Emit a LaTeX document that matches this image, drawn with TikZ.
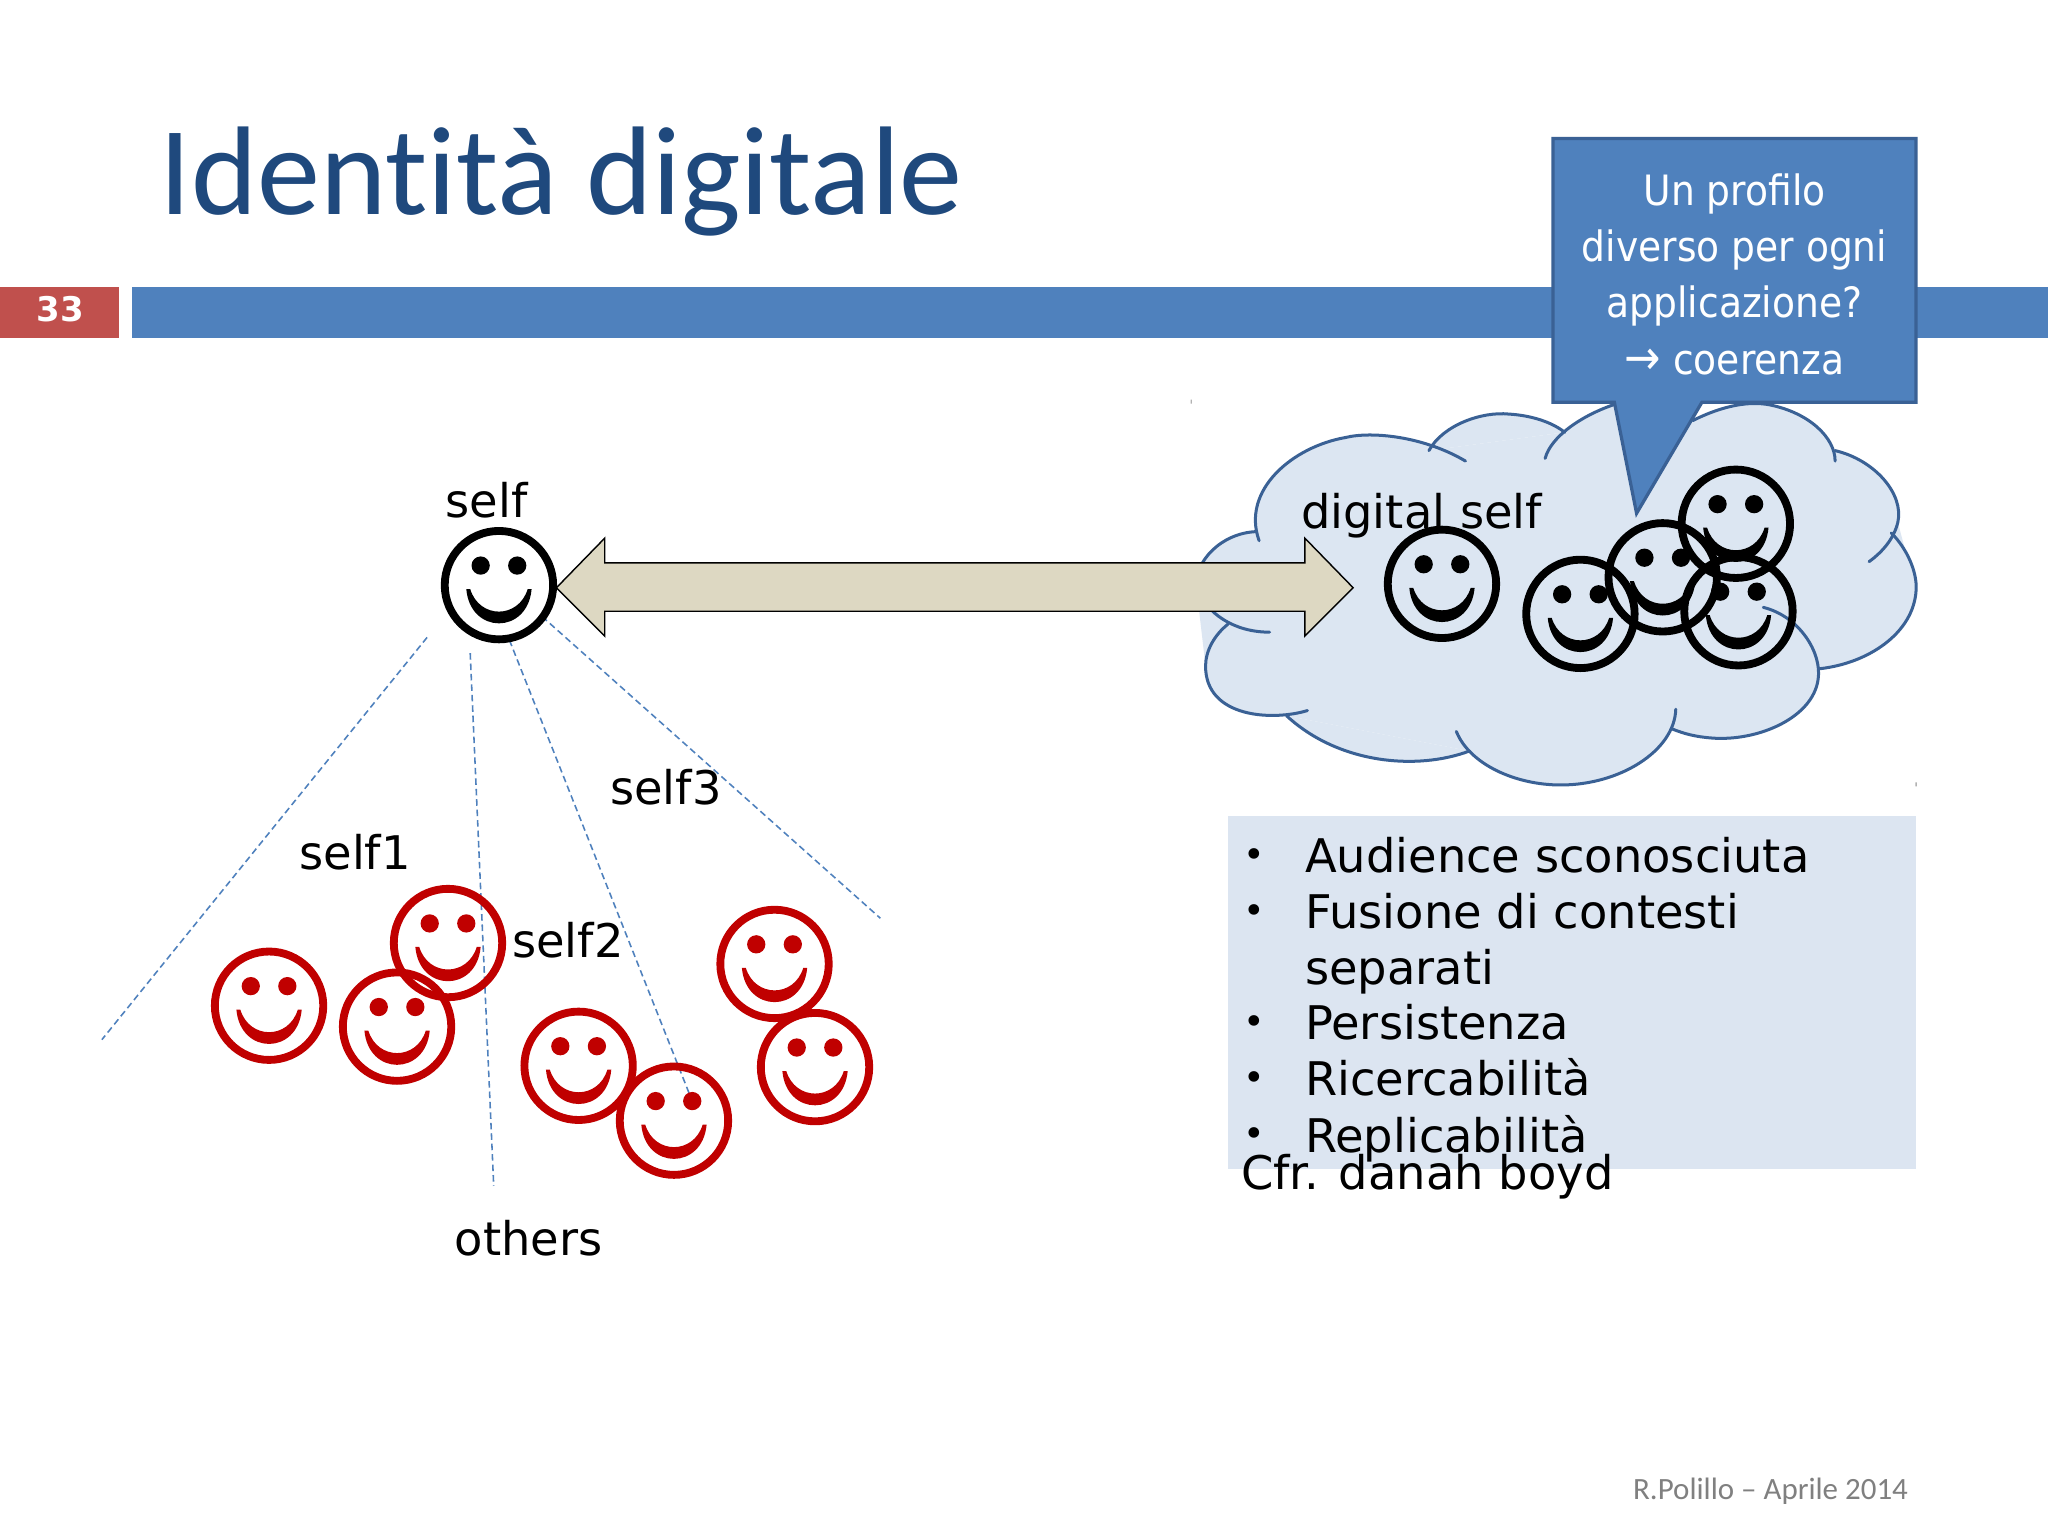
\documentclass[tikz,border=0pt]{standalone}
\usepackage{fontspec}
\setmainfont{DejaVu Sans}
\newfontfamily\titlefont[Ligatures={NoCommon}]{Carlito}
\newfontfamily\calloutfont{DejaVu Sans Condensed}
\definecolor{barblue}{HTML}{4F81BD}
\definecolor{edgeblue}{HTML}{3A6195}
\definecolor{cloudfill}{HTML}{DCE6F2}
\definecolor{boxfill}{HTML}{DCE5F1}
\definecolor{titleblue}{HTML}{1F497D}
\definecolor{barred}{HTML}{C0504D}
\definecolor{tan}{HTML}{DDD8C2}
\definecolor{facered}{HTML}{C00000}
\tikzset{
  smiley/.pic={
    \draw[draw=#1,line width=6pt] (0,0) circle (41.5pt);
    \fill[#1] (-14,-15) circle (7pt) (14,-15) circle (7pt);
    \fill[#1] (-25,3) .. controls (-22,38) and (22,38) .. (25,3)
      -- (22,3) .. controls (15,26) and (-15,26) .. (-22,3) -- cycle;
  },
  lobe/.style={draw=edgeblue,line width=2.3pt,line cap=round,line join=round},
  label/.style={anchor=base west,inner sep=0pt,font=\fontsize{35.5}{35.5}\selectfont,text=black},
  reach/.style={draw=barblue,line width=1.2pt,dash pattern=on 5pt off 3pt},
}
\newcommand{\lobepart}[1]{\fill[cloudfill] #1;}
\newcommand{\lobeline}[1]{\draw[lobe] #1;}
\begin{document}
\begin{tikzpicture}[x=1pt,y=-1pt]
\useasboundingbox (0,0) rectangle (1568,1175.2);
\fill[white] (0,0) rectangle (1568,1175.2);
% title and bars
\node[anchor=base west,inner sep=0pt,text=titleblue,font=\titlefont\fontsize{96.6}{96.6}\selectfont] (title) at (122,164) {Identità digitale};
\fill[barred] (0,220) rectangle (91,259);
\fill[barblue] (101,220) rectangle (1568,259);
\node[inner sep=0pt,text=white,font=\bfseries\fontsize{26}{26}\selectfont] (num) at (46,237) {33};
% cloud
\def\La{(1122,353) .. controls (1090,334) and (1050,330) .. (1030,335) .. controls (990,342) and (950,375) .. (964,414)}
\def\Lb{(1094,345) .. controls (1105,325) and (1135,315) .. (1155,317) .. controls (1172,318) and (1188,323) .. (1198,331)}
\def\Lc{(1183,351) .. controls (1187,335) and (1210,318) .. (1238,309)}
\def\Ld{(1296,322) .. controls (1320,310) and (1340,307) .. (1355,310) .. controls (1385,316) and (1405,335) .. (1405,353)}
\def\Le{(1405,345) .. controls (1435,352) and (1458,378) .. (1453,400) .. controls (1450,412) and (1442,422) .. (1431,430)}
\def\Lf{(1448,408) .. controls (1460,420) and (1468,438) .. (1467,452) .. controls (1465,485) and (1430,508) .. (1393,512)}
\def\Lg{(1350,465) .. controls (1378,472) and (1395,500) .. (1392,520) .. controls (1388,550) and (1345,568) .. (1310,565) .. controls (1298,564) and (1290,562) .. (1280,558)}
\def\Lh{(1283,543) .. controls (1282,575) and (1240,601) .. (1195,601) .. controls (1160,601) and (1125,585) .. (1115,560)}
\def\Li{(1125,575) .. controls (1085,590) and (1025,585) .. (985,548)}
\def\Lj{(1001,544) .. controls (975,552) and (923,550) .. (923,510) .. controls (923,498) and (930,486) .. (940,478)}
\def\Lk{(972,484) .. controls (945,484) and (924,470) .. (916,450) .. controls (914,430) and (935,408) .. (962,407)}
\fill[cloudfill] (964,414) -- (1030,335) -- (1094,345) -- (1198,331) -- (1238,309) -- (1296,322) -- (1405,345) -- (1453,400) -- (1467,452) -- (1393,512) -- (1280,558) -- (1195,601) -- (1125,575) -- (985,548) -- (923,510) -- (916,450) -- cycle;
\lobepart{\La}\lobepart{\Lb}\lobepart{\Lc}\lobepart{\Ld}\lobepart{\Le}\lobepart{\Lf}\lobepart{\Lg}\lobepart{\Lh}\lobepart{\Li}\lobepart{\Lj}\lobepart{\Lk}
\lobeline{\La}\lobeline{\Lb}\lobeline{\Lc}\lobeline{\Ld}\lobeline{\Le}\lobeline{\Lf}\lobeline{\Lg}\lobeline{\Lh}\lobeline{\Li}\lobeline{\Lj}\lobeline{\Lk}
% double arrow
\draw[draw=black,line width=1.1pt,fill=tan,line join=miter]
  (426,450) -- (463,412) -- (463,431) -- (999,431) -- (999,412) -- (1036,450)
  -- (999,487) -- (999,468) -- (463,468) -- (463,487) -- cycle;
% dashed reach lines
\coordinate (a1) at (327,488); \coordinate (a2) at (78,796);
\coordinate (b1) at (360,500); \coordinate (b2) at (378,908);
\coordinate (c1) at (390,490); \coordinate (c2) at (528,838);
\coordinate (d1) at (415,472); \coordinate (d2) at (674,703);
\draw[reach] (a1) -- (a2);
\draw[reach] (b1) -- (b2);
\draw[reach] (c1) -- (c2);
\draw[reach] (d1) -- (d2);
% faces
\pic (self) at (382,448) {smiley=black};
\pic (dg1) at (1104,447) {smiley=black};
\pic (dg2) at (1210,470) {smiley=black};
\pic (dg3) at (1273,442) {smiley=black};
\pic (dg4) at (1329,401) {smiley=black};
\pic (dg5) at (1331,468) {smiley=black};
\pic (r1) at (206,770) {smiley=facered};
\pic (r2) at (304,786) {smiley=facered};
\pic (r3) at (343,722) {smiley=facered};
\pic (r4) at (443,816) {smiley=facered};
\pic (r5) at (516,858) {smiley=facered};
\pic (r6) at (593,738) {smiley=facered};
\pic (r7) at (624,817) {smiley=facered};
% callout
\draw[draw=edgeblue,line width=2.5pt,fill=barblue,line join=miter]
  (1189,106) -- (1467,106) -- (1467,308) -- (1303,308) -- (1253,393) -- (1236,308) -- (1189,308) -- cycle;
\node[inner sep=0pt,text=white,align=center,font=\calloutfont\fontsize{32}{43}\selectfont] (callout) at (1328,210)
  {Un profilo\\diverso per ogni\\applicazione?\\{\fontsize{37}{43}\selectfont →} coerenza};
% labels
\node[label] (lself) at (341,396) {self};
\node[label] (ldig) at (996,405) {digital self};
\node[label] (ls1) at (229,666) {self1};
\node[label] (ls2) at (392,733) {self2};
\node[label] (ls3) at (467,616) {self3};
\node[label] (loth) at (348,961) {others};
% bullet box
\fill[boxfill] (940,625) rectangle (1467,895);
\foreach \y/\t [count=\i] in {668/Audience sconosciuta,711/Fusione di contesti,754/separati,796/Persistenza,839/Ricercabilità,882/Replicabilità}{
  \node[label] (t\i) at (999,\y) {\t};
}
\foreach \y [count=\i] in {668,711,796,839,882}{
  \node[anchor=base,inner sep=0pt,text=black,font=\fontsize{28}{28}\selectfont] (b\i) at (960,\y-4) {•};
}
\node[label] (cfr) at (950,911) {Cfr. danah boyd};
% footer
\node[anchor=base east,inner sep=0pt,text=black!50,font=\titlefont\fontsize{23.7}{23.7}\selectfont] (foot) at (1461,1148) {R.Polillo – Aprile 2014};
% faint selection specks
\fill[black!30] (911.5,306) rectangle (912.5,309) (1466.5,599) rectangle (1467.5,602);
\end{tikzpicture}
\end{document}
